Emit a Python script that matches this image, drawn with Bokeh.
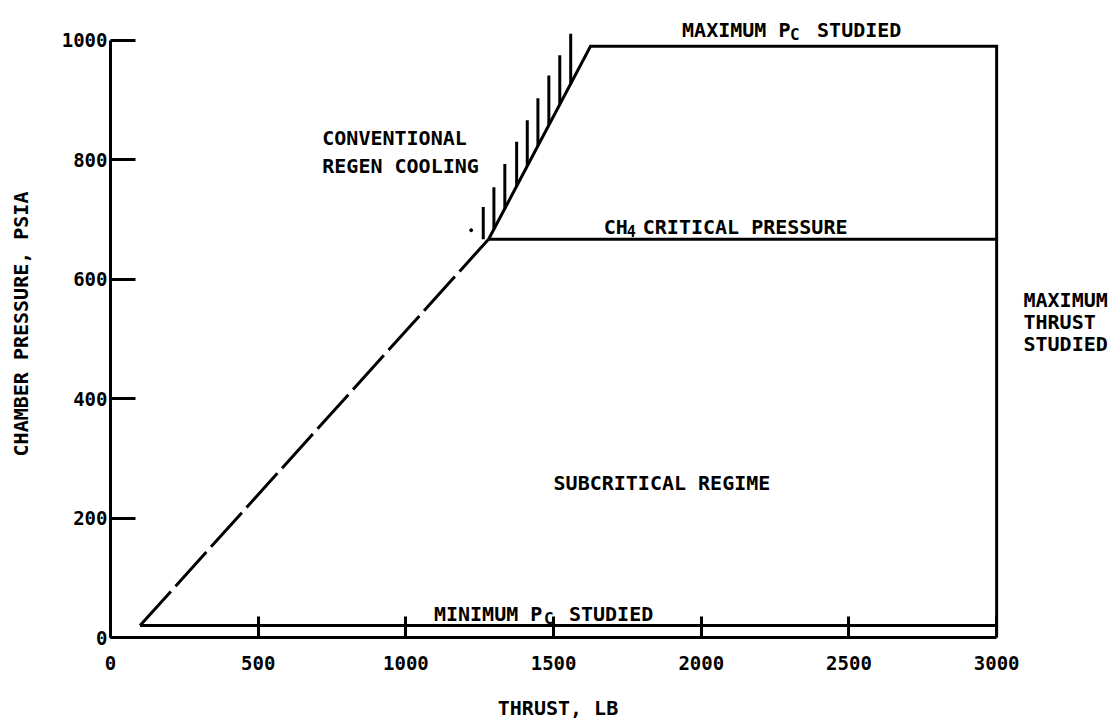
import numpy as np
from bokeh.plotting import figure
from bokeh.models import Range1d, FixedTicker, Label, LinearAxis
from bokeh.embed import file_html
from bokeh.resources import INLINE

# ---- data ----
thrust_ticks = [0, 500, 1000, 1500, 2000, 2500, 3000]
pc_ticks = [0, 200, 400, 600, 800, 1000]

min_pc = 20          # minimum Pc studied, psia
ch4_pc = 667         # CH4 critical pressure, psia
max_pc = 990         # maximum Pc studied, psia
max_thrust = 3000    # maximum thrust studied, lb

dash_thrust = [100, 1280]     # extrapolated (dashed) boundary
dash_pc = [20, 667]
regen_thrust = [1280, 1625]   # conventional regen cooling limit
regen_pc = [667, 990]

hatch_thrust = [1262, 1298, 1335, 1375, 1411, 1447, 1484, 1521, 1558]
hatch_top_pc = [721, 754, 793, 830, 866, 903, 941, 975, 1011]

speck_thrust = [1221]
speck_pc = [682]

FONT = "DejaVu Sans Mono"
STYLE = "bold"

p = figure(width=1110, height=724,
           x_range=Range1d(0, 3030), y_range=Range1d(0, 1050),
           output_backend="svg", toolbar_location=None,
           min_border_left=110, min_border_right=105,
           min_border_top=10, min_border_bottom=87)
p.outline_line_color = None
p.xgrid.visible = False
p.ygrid.visible = False
p.background_fill_color = "white"
p.border_fill_color = "white"

# ---- axes ----
xa = p.xaxis[0]
xa.ticker = FixedTicker(ticks=thrust_ticks)
xa.bounds = (thrust_ticks[0], thrust_ticks[-1])
xa.major_tick_in = 21
xa.major_tick_out = 0
xa.minor_tick_line_color = None
xa.axis_line_width = 3
xa.major_tick_line_width = 3
xa.axis_line_color = "black"
xa.major_tick_line_color = "black"
xa.major_label_text_font = FONT
xa.major_label_text_font_size = "19px"
xa.major_label_text_font_style = STYLE
xa.major_label_text_color = "black"
xa.major_label_standoff = 18
xa.axis_label = "THRUST, LB"
xa.axis_label_text_font = FONT
xa.axis_label_text_font_size = "20px"
xa.axis_label_text_font_style = STYLE
xa.axis_label_text_color = "black"
xa.axis_label_standoff = 23

ya = p.yaxis[0]
ya.ticker = FixedTicker(ticks=pc_ticks)
ya.bounds = (pc_ticks[0], pc_ticks[-1])
ya.major_tick_in = 25
ya.major_tick_out = 0
ya.minor_tick_line_color = None
ya.axis_line_width = 3
ya.major_tick_line_width = 3
ya.axis_line_color = "black"
ya.major_tick_line_color = "black"
ya.major_label_text_font = FONT
ya.major_label_text_font_size = "19px"
ya.major_label_text_font_style = STYLE
ya.major_label_text_color = "black"
ya.major_label_standoff = 3
ya.axis_label = "CHAMBER PRESSURE, PSIA"
ya.axis_label_text_font = FONT
ya.axis_label_text_font_size = "20px"
ya.axis_label_text_font_style = STYLE
ya.axis_label_text_color = "black"
ya.axis_label_standoff = 26

# right-hand note "MAXIMUM THRUST STUDIED" carried by an unlined right axis
note_pc = 528
ra = LinearAxis(ticker=FixedTicker(ticks=[note_pc]),
                major_label_overrides={note_pc: "MAXIMUM\nTHRUST\nSTUDIED"})
ra.axis_line_color = None
ra.major_tick_line_color = None
ra.minor_tick_line_color = None
ra.major_tick_in = 0
ra.major_tick_out = 0
ra.major_label_standoff = 18
ra.major_label_text_font = FONT
ra.major_label_text_font_size = "20px"
ra.major_label_text_font_style = STYLE
ra.major_label_text_color = "black"
ra.major_label_text_line_height = 0.92
p.add_layout(ra, "right")

# ---- boundaries ----
lw = 3
p.line(dash_thrust, dash_pc, line_color="black", line_width=lw, line_dash="46 7")
p.line([regen_thrust[0], regen_thrust[1], max_thrust, max_thrust],
       [regen_pc[0], regen_pc[1], max_pc, pc_ticks[0]],
       line_color="black", line_width=lw, line_join="miter")
p.line([dash_thrust[1], max_thrust], [ch4_pc, ch4_pc], line_color="black", line_width=lw)
p.line([dash_thrust[0], max_thrust], [min_pc, min_pc], line_color="black", line_width=lw)

hatch_bottom = np.interp(hatch_thrust, regen_thrust, regen_pc)
p.segment(x0=hatch_thrust, y0=hatch_bottom, x1=hatch_thrust, y1=hatch_top_pc,
          line_color="black", line_width=3)
p.scatter(speck_thrust, speck_pc, size=3, color="black")

# ---- annotations ----
def lab(text, x, y, dx=0, dy=0, size=20):
    p.add_layout(Label(x=x, y=y, x_offset=dx, y_offset=dy, text=text,
                       text_font=FONT, text_font_size=f"{size}px",
                       text_font_style=STYLE,
                       text_color="black", text_align="left",
                       text_baseline="alphabetic"))

lab("CONVENTIONAL", 717, 837)
lab("REGEN COOLING", 717, 790)
lab("CH", 1670, 687)
lab("4", 1670, 687, 23, -4, 15)
lab("CRITICAL PRESSURE", 1670, 687, 39)
lab("MAXIMUM P", 1935, 1018)
lab("C", 1935, 1018, 108, -5, 16)
lab("STUDIED", 1935, 1018, 135)
lab("SUBCRITICAL REGIME", 1500, 259)
lab("MINIMUM P", 1095, 40)
lab("C", 1095, 40, 110, -5, 16)
lab("STUDIED", 1095, 40, 135)

open("out.html", "w").write(file_html(p, INLINE))
